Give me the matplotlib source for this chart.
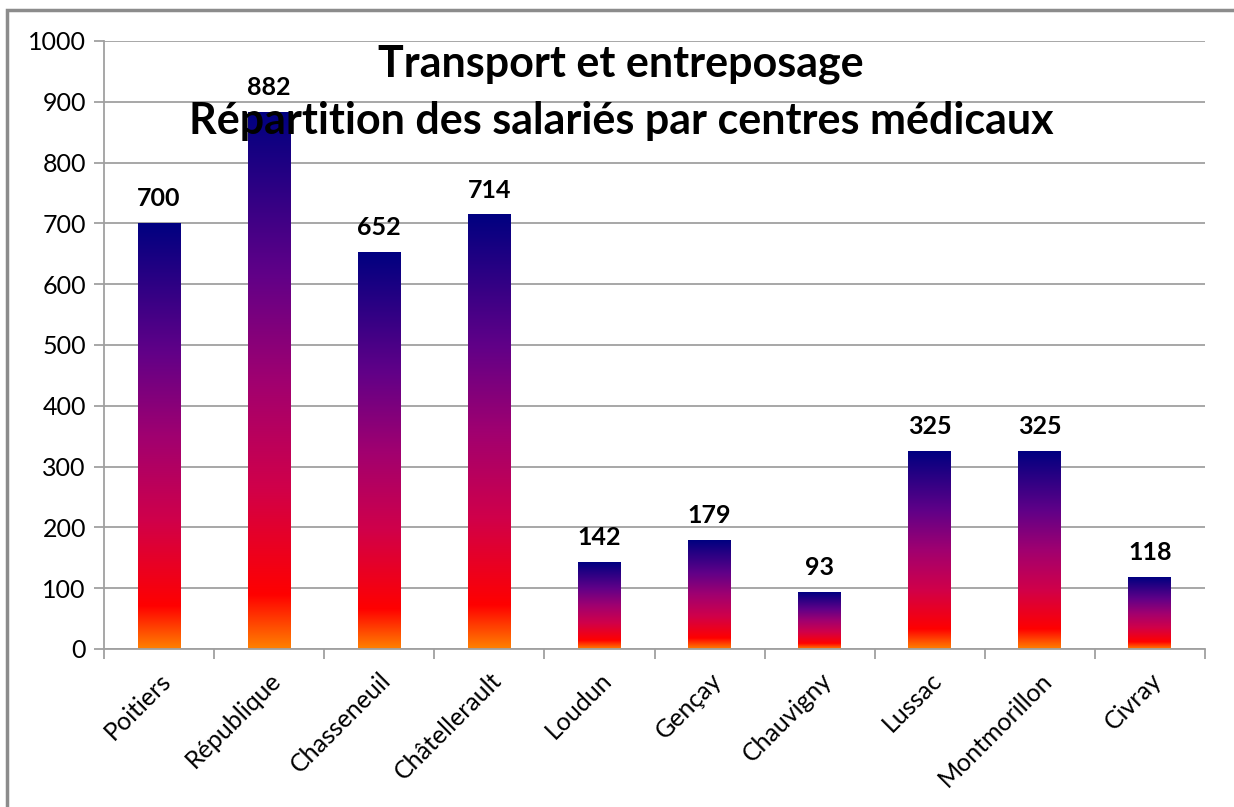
import numpy as np
import matplotlib
matplotlib.use("Agg")
import matplotlib.pyplot as plt
from matplotlib.colors import LinearSegmentedColormap
from matplotlib.patches import Rectangle

plt.rcParams['font.family'] = ['Lato', 'DejaVu Sans']

centres = ['Poitiers', 'République', 'Chasseneuil', 'Châtellerault', 'Loudun',
           'Gençay', 'Chauvigny', 'Lussac', 'Montmorillon', 'Civray']
salaries = [700, 882, 652, 714, 142, 179, 93, 325, 325, 118]
yticks = [0, 100, 200, 300, 400, 500, 600, 700, 800, 900, 1000]

# orange at the bottom of each bar, navy at the top
fire = LinearSegmentedColormap.from_list('fire', [
    (0.0, '#ff8000'), (0.1, '#ff0000'), (0.3, '#d0004a'),
    (0.5, '#a00070'), (0.7, '#600088'), (1.0, '#000080')])

fig = plt.figure(figsize=(12.34, 8.07), dpi=100)
ax = fig.add_axes([104 / 1234, 1 - 649 / 807, 1101 / 1234, 608 / 807])

# chart frame
fig.patches.append(Rectangle((7 / 1234, -0.1), 1.2, 1 - 10 / 807 + 0.1,
                             transform=fig.transFigure, fill=False,
                             edgecolor='#8c8c8c', linewidth=2.5))

x = np.arange(len(centres))
bars = ax.bar(x, salaries, width=0.39, color='none', linewidth=0, zorder=3)
grad = np.linspace(0, 1, 256).reshape(-1, 1)
for b in bars:
    x0, h, w = b.get_x(), b.get_height(), b.get_width()
    ax.imshow(grad, cmap=fire, origin='lower', aspect='auto',
              extent=[x0, x0 + w, 0, h], zorder=2, interpolation='bilinear')
    ax.text(x0 + w / 2, h + 22, str(int(h)), ha='center', va='bottom',
            fontsize=18, fontweight='bold', zorder=5)

ax.set_xlim(-0.5, len(centres) - 0.5)
ax.set_ylim(0, 1000)
ax.set_yticks(yticks)
ax.set_yticklabels([str(v) for v in yticks], fontsize=18)
ax.set_xticks(x)
ax.set_xticklabels(centres, rotation=45, ha='right', rotation_mode='anchor',
                   fontsize=18)
ax.set_xticks(np.arange(-0.5, len(centres)), minor=True)
ax.tick_params(axis='x', which='major', length=0, pad=14)
ax.tick_params(axis='x', which='minor', length=7, color='#a0a0a0', width=1.3)
ax.tick_params(axis='y', length=7, color='#a0a0a0', width=1.3, pad=6)
ax.yaxis.grid(True, color='#a0a0a0', linewidth=1.3, zorder=0)
ax.set_axisbelow(True)
for s in ['top', 'right']:
    ax.spines[s].set_visible(False)
for s in ['left', 'bottom']:
    ax.spines[s].set_color('#a0a0a0')
    ax.spines[s].set_linewidth(1.3)

ax.text(0.4696, 0.962, 'Transport et entreposage', transform=ax.transAxes,
        ha='center', va='center', fontsize=31, fontweight='bold', zorder=6)
ax.text(0.4696, 0.868, 'Répartition des salariés par centres médicaux',
        transform=ax.transAxes, ha='center', va='center', fontsize=31,
        fontweight='bold', zorder=6)

fig.savefig('out.png', dpi=100)
